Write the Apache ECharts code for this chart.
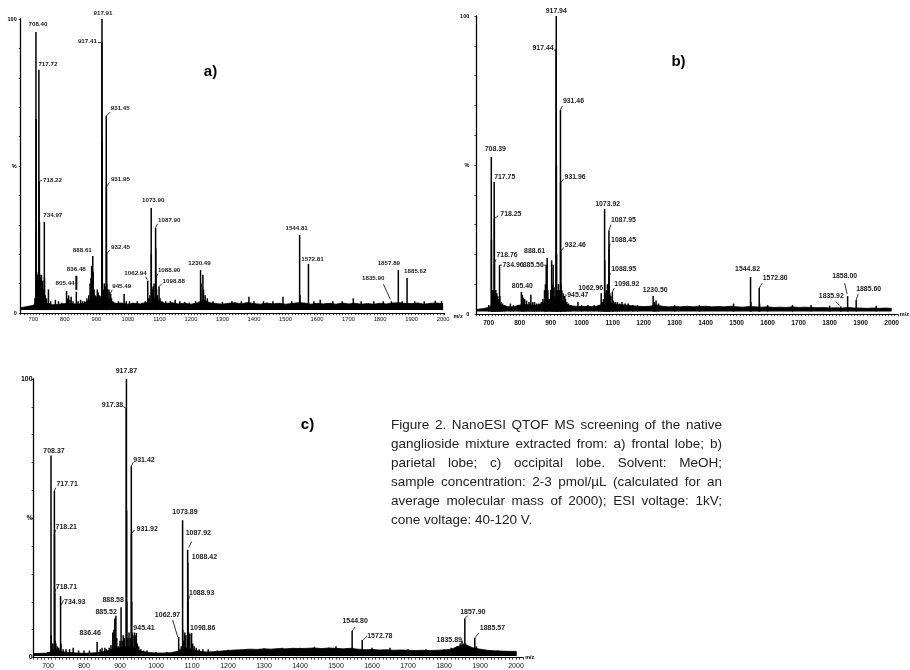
<!DOCTYPE html>
<html><head><meta charset="utf-8">
<script src="https://cdn.jsdelivr.net/npm/echarts@6/dist/echarts.min.js"></script>
<style>html,body{margin:0;padding:0;background:#fff}#c{width:910px;height:670px}</style>
</head><body><div id="c"></div>
<script>
// ---------------- DATA ----------------
const xTicks = [700,800,900,1000,1100,1200,1300,1400,1500,1600,1700,1800,1900,2000];
const baseMz = [660,680,700,720,740,760,780,800,820,840,860,880,900,920,940,960,980,1000,1020,1040,1060,1080,1100,1120,1140,1160,1180,1200,1220,1240,1260,1280,1300,1320,1340,1360,1380,1400,1420,1440,1460,1480,1500,1520,1540,1560,1580,1600,1620,1640,1660,1680,1700,1720,1740,1760,1780,1800,1820,1840,1860,1880,1900,1920,1940,1960,1980,2000];

// baseline noise band (top, %), panel a / b / c
const baseTopA = [1.8,2.2,2.6,5,3.5,2.8,2.9,3.2,3.2,3.0,3.3,4.5,5.5,5.5,4.5,3.2,3.4,3.0,3.3,3.1,3.6,5,4.0,3.2,3.5,3.1,3.3,3.0,3.4,4.5,3.5,3.2,3.0,3.3,3.5,3.1,3.6,3.2,3.0,3.4,3.1,3.3,3.0,3.2,3.5,3.4,3.0,3.3,3.1,3.3,3.0,3.4,3.1,3.3,3.0,3.2,3.0,3.3,3.1,3.4,3.5,3.3,3.2,3.4,3.0,3.3,3.4,3.2];
const baseTopB = [1.5,1.8,2.2,4,3,2.5,2.4,3,3.2,3.0,3.0,4,5,5,4,2.8,2.6,2.5,2.6,2.4,3,4,3.5,3.2,3.0,2.8,2.6,2.5,2.6,3.0,2.6,2.4,2.5,2.4,2.6,2.4,2.5,2.6,2.4,2.5,2.4,2.6,2.4,2.3,2.5,2.4,2.3,2.4,2.2,2.3,2.2,2.4,2.2,2.3,2.2,2.1,2.2,2.0,2.1,2.0,2.2,2.0,2.0,1.9,2.0,1.9,2.0,1.9];
const baseTopC = [1.4,1.5,1.6,3,2,1.8,1.6,1.5,1.6,1.8,2.2,3,3.5,4,3.5,2.2,1.8,1.6,1.6,1.7,2.2,3.5,3,2.2,2.0,2.1,2.3,2.5,2.7,2.8,3.0,2.9,3.1,3.0,3.2,3.1,3.3,3.2,3.3,3.4,3.2,3.4,3.3,3.1,3.3,3.0,2.8,2.9,2.7,2.8,2.6,2.7,2.6,2.5,2.6,2.5,2.6,2.7,3.0,4,4.5,3.5,3.0,2.6,2.4,2.3,2.2,2.2];
const baseLowA = 1.0, baseLowB = 0.8, baseLowC = 0.5;

// peaks [m/z, relative intensity %]
const peaksA = [[705,5],[708.40,95.6],[709.0,66],[709.5,28],[710.5,14],[712,12],[714,13],[716,10],[717.72,82.7],[718.22,44.6],[719.5,31],[721,13],[723,12],[726,13],[728,10],[730,11],[732,8],[734.97,31],[735.5,12],[738,6],[742,5],[748,8],[755,4],[770,4.5],[780,4],[790,3.5],[805.44,7.5],[808,5],[812,6],[816,4.5],[820,5.5],[826,4],[836.48,7.2],[842,4],[850,4.5],[856,4],[862,4],[870,5],[876,6],[880,10],[883,12],[885,16],[888.61,19.4],[890,14],[893,8],[897,6],[903,8],[906,7],[910,6],[913,5],[917.41,92],[917.91,100],[918.4,58],[918.9,25],[922,8],[925,10],[928,9],[931.45,67],[931.95,43],[932.45,20],[933,10],[936,8],[940,8],[943,7],[945.49,6.5],[948,5],[952,4],[960,3.5],[970,4],[988,6.5],[995,4],[1005,4],[1015,3.5],[1030,4],[1045,3.5],[1055,4],[1062.94,11],[1066,5],[1070,6],[1073.90,35.7],[1074.4,20],[1078,8],[1080,9],[1083,10],[1087.90,29],[1088.40,22],[1088.90,12],[1091,8],[1094,6],[1098.88,9],[1102,5],[1108,4],[1120,4],[1135,4],[1150,4.5],[1165,4],[1180,3.8],[1195,3.5],[1215,4],[1230.49,14.6],[1232,10],[1238,13],[1240,8],[1245,6],[1252,5],[1270,4],[1300,3.8],[1330,4],[1360,4],[1384,5.5],[1400,4],[1430,4],[1460,4],[1492,5.5],[1520,4],[1544.81,26.5],[1546,6],[1572.81,16.7],[1590,4],[1610,4.5],[1650,4],[1680,4],[1715,5],[1740,4],[1780,4],[1810,4],[1835.90,4],[1857.89,14.6],[1870,4],[1885.62,11.9],[1910,4],[1940,4],[1975,4.2],[1995,4]];
const peaksB = [[700,3],[708.39,52.7],[709.0,25],[711,8],[713,7],[715,8],[717.75,44.3],[718.25,32],[718.76,17],[720,8],[723,8],[726,7],[729,6],[731,5],[734.96,16.4],[736,6],[740,4],[745,3.5],[752,3],[770,3.5],[780,3],[795,3],[805.40,7.4],[808,6.5],[812,5.5],[816,5],[822,4.5],[830,4],[836,6.5],[842,4],[848,4],[855,3.5],[862,3.5],[870,4],[875,5],[880,8],[883,10],[885.56,16.4],[888.61,18.8],[891,8],[895,5],[900,8],[903,18],[906,10],[908,16.5],[911,9],[913,6],[917.44,88.6],[917.94,100],[918.44,50],[918.9,20],[922,8],[925,10],[928,8],[931.46,68.5],[931.96,44],[932.46,21],[933,10],[936,8],[940,7],[943,6],[945.47,6],[948,5],[952,4],[958,3.5],[965,3],[988,4],[1000,3],[1020,3],[1040,3],[1055,3],[1062.96,7],[1066,4],[1070,5],[1073.92,35.2],[1074.42,18],[1078,7],[1080,8],[1083,10],[1087.95,28],[1088.45,22],[1088.95,12.4],[1091,7],[1094,6],[1098.92,7.4],[1102,4.5],[1108,4],[1115,4],[1122,3.5],[1130,4],[1140,3.5],[1150,3.5],[1165,3],[1180,3],[1230.50,6],[1235,4],[1240,4.5],[1248,3.5],[1300,3],[1380,3],[1490,3.5],[1544.82,12.4],[1546,4],[1572.80,8.7],[1574,3.5],[1600,3],[1680,3],[1740,3],[1800,2.8],[1835.92,2.5],[1858.00,6],[1885.60,4.7],[1950,2.8]];
const peaksC = [[700,2],[708.37,72.5],[709.0,8],[711,5],[714,5],[717.71,59.9],[718.21,44.4],[718.71,23.2],[720,6],[722,5],[726,4],[730,3.5],[734.93,22],[736,5],[742,3],[750,3],[760,3],[770,3.5],[785,2.5],[800,2.5],[815,2.5],[836.46,5.6],[845,3],[850,3.5],[858,3.5],[862,3],[870,3.5],[875,4.5],[880,9],[883,10],[885.52,14],[888.58,15],[891,7],[895,4],[900,6],[903,18],[906,6],[909,8],[912,7],[917.38,89.4],[917.87,100],[918.37,52.8],[918.9,20],[922,7],[925,9],[928,7],[931.42,68.7],[931.92,44.4],[932.42,20],[933,9],[936,8],[940,9],[942,8],[945.41,8.8],[948,5],[952,4],[958,3],[965,2.5],[975,2.5],[1000,2],[1030,2],[1050,2],[1062.97,7.4],[1066,3],[1070,4],[1073.89,49.3],[1074.39,10],[1077,6],[1080,9],[1083,8],[1087.92,38.7],[1088.42,34],[1088.93,20.4],[1091,9],[1094,8.5],[1098.86,8.8],[1102,5],[1106,4],[1112,3.5],[1120,3],[1130,3],[1145,3],[1170,2.5],[1200,2.8],[1250,3],[1300,3.2],[1350,3.5],[1400,3.5],[1440,3.8],[1480,3.5],[1500,4],[1544.80,9.5],[1546,3.5],[1572.78,6.3],[1574,3],[1600,3.5],[1650,3.5],[1700,3],[1750,3],[1800,3],[1820,3.5],[1835.89,4],[1845,5],[1850,6],[1855,5],[1857.90,14],[1860,5],[1865,4.5],[1870,4],[1885.57,7],[1890,4],[1900,3],[1950,2.5],[2000,2.2]];

// annotated peaks (m/z label text, anchor intensity)
const labelA_mz = [708.40,717.72,718.22,734.97,805.44,836.48,888.61,917.41,917.91,931.45,931.95,932.45,945.49,1062.94,1073.90,1087.90,1088.90,1098.88,1230.49,1544.81,1572.81,1835.90,1857.89,1885.62];
const labelA_int = [95.6,82.7,44.6,31,7.5,7.2,19.4,92,100,67,43,20,6.5,11,35.7,29,12,9,14.6,26.5,16.7,4,14.6,11.9];
const labelB_mz = [708.39,717.75,718.25,718.76,734.96,805.40,885.56,888.61,917.44,917.94,931.46,931.96,932.46,945.47,1062.96,1073.92,1087.95,1088.45,1088.95,1098.92,1230.50,1544.82,1572.80,1835.92,1858.00,1885.60];
const labelB_int = [52.7,44.3,32,17,16.4,7.4,16.4,18.8,88.6,100,68.5,44,21,6,7,35.2,28,22,12.4,7.4,6,12.4,8.7,2.5,6,4.7];
const labelC_mz = [708.37,717.71,718.21,718.71,734.93,836.46,885.52,888.58,917.38,917.87,931.42,931.92,945.41,1062.97,1073.89,1087.92,1088.42,1088.93,1098.86,1544.80,1572.78,1835.89,1857.90,1885.57];
const labelC_int = [72.5,59.9,44.4,23.2,22,5.6,14,15,89.4,100,68.7,44.4,8.8,7.4,49.3,38.7,34,20.4,8.8,9.5,6.3,4,14,7];

const panelNames = ['a)','b)','c)'];
const captionLines = [
  'Figure 2. NanoESI QTOF MS screening of the native',
  'ganglioside mixture extracted from: a) frontal lobe; b)',
  'parietal lobe; c) occipital lobe. Solvent: MeOH;',
  'sample concentration: 2-3 pmol/\u00b5L (calculated for an',
  'average molecular mass of 2000);  ESI voltage: 1kV;',
  'cone voltage: 40-120 V.'
];

// ---------------- LAYOUT (pixel offsets of annotations) ----------------
// [align, dx, dy, leader [x1,y1,x2,y2] | null, leaderWidth]
const layoutA = [
 ['center',2,-8,null],['left',-0.5,-6,null],['left',4,-2,[0,0,3,-2]],['left',-1,-7,null],
 ['center',-1.5,-8,null],['center',0,-23,[0,-2,0,-16],2],['right',-1,-6,null],['right',-5,-1,[-1,0,-4,0]],
 ['center',1,-6,null],['left',4.5,-7.5,[0,0,4,-4]],['left',4.5,-7,[0,0,3,-4]],['left',4.5,-7,[0,0,3,-4]],
 ['left',1.5,-8,[0,-1,1.5,-4]],['right',-1,-7,[-0.5,-1,-2,-4]],['center',2,-8,null],['left',2.5,-7,[0,0,2,-4]],
 ['left',2,-7,[0,0,2,-4]],['left',3.5,-5,[0,0,3,-3]],['center',-1,-7,null],['center',-3,-7,null],
 ['center',4,-5,null],['right',-7,-23,[-1,-2,-8,-17]],['right',1.7,-7,null],['left',-3,-7,null]
];
const layoutB = [
 ['center',4,-8,null],['left',0,-5,null],['left',6,-5,[0,0,4,-3]],['left',2,-8,[0,0,1.5,-4]],
 ['left',3,0,[0,0,2.5,0]],['center',1,-6,null],['right',-2.5,0,[0,0,-2,0]],['right',-2,-7,null],
 ['right',-2.5,-1.5,[0,0,-2,0]],['center',0,-5,null],['left',2.5,-9,[0,0,2,-4]],['left',4,-6,[0,0,3,-4]],
 ['left',4,-6,[0,0,3,-4]],['left',2.5,-1,[0,-1,2,-1]],['right',2,-5,null],['center',3,-5,null],
 ['left',2,-10,[0,0,2,-6]],['left',2,-8,[0,0,1,-5]],['left',2,-8,[0,0,1,-4]],['left',2,-8,[0,0,2,-4]],
 ['center',2,-6,null],['center',-3,-8,null],['left',3.5,-10,[0,0,3,-5]],['right',3,-10,[-1,-1,-5,-5]],
 ['center',-3,-20,[-0.5,-2,-3,-13]],['left',0,-11,[0,0,2,-6]]
];
const layoutC = [
 ['center',3,-5,null],['left',2,-7,[0,0,1.5,-3]],['left',1,-7,[0,0,1,-4]],['left',1,-6,[0,0,1,-4]],
 ['left',3.5,5.5,[0.5,9,3,4]],['center',-7,-9,null],['right',2,-6,null],['right',8,-16,null],
 ['right',-3,-3,[-3,-2,0,0]],['center',0,-8,null],['left',2,-6,[0,0,2,-4]],['left',5,-5,[0,0,3,-4]],
 ['left',-3,-5,null],['right',1.5,-22,[-1,0,-6,-17]],['center',2.4,-8,null],['left',-2,-17,[1,-2,4,-8]],
 ['left',4,-6,null],['left',1,-8,[0,0,2,-5]],['left',-1.5,-5,null],['center',3,-10,[0,0,3,-4]],
 ['left',5,-4,[1,0,5,-4]],['right',5,-6,null],['center',8,-6.5,[0,0,3,-3]],['left',5,-10,[0,0,4,-5]]
];

const FONT = '"Liberation Sans", Arial, Helvetica, sans-serif';
const grids = [
  {left:20.7, top:19, width:424, height:294},
  {left:476.3, top:16, width:433.2, height:298},
  {left:33.6, top:379, width:489.6, height:284}
];
const xMax = [2005, 2020, 2020];
const tickFont = [5.8, 6.6, 7];
const tickBold = ['normal','bold','normal'];
const tickMargin = [3, 5.5, 5.5];
const yFont = [5.5, 5.5, 7];
const yMargin = [4, 7, 1];
const labFont = [6.2, 6.9, 7];
const nameVAlign = ['top','middle','middle'];

const xAxes = [], yAxes = [], series = [];
const peakSets = [peaksA, peaksB, peaksC];
const baseTops = [baseTopA, baseTopB, baseTopC];
const baseLows = [baseLowA, baseLowB, baseLowC];
const labMz = [labelA_mz, labelB_mz, labelC_mz];
const labInt = [labelA_int, labelB_int, labelC_int];
const layouts = [layoutA, layoutB, layoutC];

for (let i = 0; i < 3; i++) {
  xAxes.push({
    type:'value', gridIndex:i, min:660, max:xMax[i], interval:10,
    name: 'm/z', nameLocation:'end', nameGap:2,
    nameTextStyle:{fontSize:5.5, fontFamily:FONT, color:'#000', fontWeight:'bold', verticalAlign:nameVAlign[i]},
    axisLine:{show:true, onZero:false, lineStyle:{color:'#000', width:1}},
    axisTick:{show:true, length:2.2, lineStyle:{color:'#000', width:0.7}},
    axisLabel:{show:true, margin:tickMargin[i], fontSize:tickFont[i], fontFamily:FONT, fontWeight:tickBold[i], color:'#111',
      formatter:(v)=> xTicks.indexOf(v) >= 0 ? String(v) : ''},
    splitLine:{show:false}
  });
  yAxes.push({
    type:'value', gridIndex:i, min:0, max:100, interval:10,
    axisLine:{show:true, onZero:false, lineStyle:{color:'#000', width:1.3}},
    axisTick:{show:true, length:2, lineStyle:{color:'#000', width:0.7}},
    axisLabel:{show:true, margin:yMargin[i], fontSize:yFont[i], fontFamily:FONT, fontWeight:'bold', color:'#000',
      formatter:(v)=> v===100?'100':(v===50?'%':(v===0?'0':''))},
    splitLine:{show:false}
  });
  const low = baseLows[i];
  // noise band
  series.push({
    type:'line', xAxisIndex:i, yAxisIndex:i, symbol:'none', silent:true, animation:false,
    data: baseMz.map((m,k)=>[m, baseTops[i][k]]),
    lineStyle:{color:'#000', width:0.8},
    areaStyle:{color:'#000', opacity:1, origin: low}
  });
  // sticks
  series.push({
    type:'custom', coordinateSystem:'cartesian2d', xAxisIndex:i, yAxisIndex:i, silent:true, animation:false,
    encode:{x:0, y:1}, data: peakSets[i],
    renderItem:(params, api)=>{
      const m = api.value(0), h = api.value(1);
      const a = api.coord([m, low]), b = api.coord([m, h]);
      return {type:'line', shape:{x1:a[0], y1:a[1], x2:b[0], y2:b[1]}, style:{stroke:'#000', lineWidth:1.5}};
    }
  });
  // annotations
  const mzs = labMz[i], lay = layouts[i], fs = labFont[i];
  series.push({
    type:'custom', coordinateSystem:'cartesian2d', xAxisIndex:i, yAxisIndex:i, silent:true, animation:false, clip:false,
    encode:{x:0, y:1}, data: mzs.map((m,k)=>[m, labInt[i][k], k]),
    renderItem:(params, api)=>{
      const k = api.value(2);
      const p = api.coord([api.value(0), api.value(1)]);
      const L = lay[k];
      const ch = [{type:'text', x:p[0]+L[1], y:p[1]+L[2],
        style:{text: mzs[k].toFixed(2), fontSize:fs, fontFamily:FONT, fontWeight:'bold', fill:'#1a1a1a', align:L[0], verticalAlign:'middle'}}];
      if (L[3]) {
        const q = L[3];
        ch.push({type:'line', shape:{x1:p[0]+q[0], y1:p[1]+q[1], x2:p[0]+q[2], y2:p[1]+q[3]}, style:{stroke:'#000', lineWidth:L[4]||0.8}});
      }
      return {type:'group', children: ch};
    }
  });
}

// graphic: panel letters + justified caption
const graphic = [];
const letterPos = [[210.5,71.7],[678.5,61.7],[307.5,425]];
panelNames.forEach((t,i)=>{
  graphic.push({type:'text', x:letterPos[i][0], y:letterPos[i][1], silent:true,
    style:{text:t, font:'bold 15px '+FONT, fill:'#000', align:'center', verticalAlign:'middle', textAlign:'center', textVerticalAlign:'middle'}});
});
const capFont = '13.5px ' + FONT;
const ctx = document.createElement('canvas').getContext('2d');
ctx.font = capFont;
const capLeft = 391, capRight = 722, capTop = 425, capStep = 19;
captionLines.forEach((line, li)=>{
  const y = capTop + li*capStep;
  if (li === captionLines.length - 1) {
    graphic.push({type:'text', x:capLeft, y:y, silent:true, style:{text:line, font:capFont, fill:'#222', align:'left', verticalAlign:'middle', textAlign:'left', textVerticalAlign:'middle'}});
    return;
  }
  const words = line.split(/\s+/);
  const widths = words.map(w=>ctx.measureText(w).width);
  const total = widths.reduce((s,w)=>s+w,0);
  const gap = (capRight - capLeft - total)/(words.length-1);
  let x = capLeft;
  words.forEach((w,k)=>{
    graphic.push({type:'text', x:x, y:y, silent:true, style:{text:w, font:capFont, fill:'#222', align:'left', verticalAlign:'middle', textAlign:'left', textVerticalAlign:'middle'}});
    x += widths[k] + gap;
  });
});

const chart = echarts.init(document.getElementById('c'), null, {renderer:'canvas'});
chart.setOption({
  backgroundColor:'#fff', animation:false,
  textStyle:{fontFamily:FONT},
  grid: grids, xAxis: xAxes, yAxis: yAxes, series: series, graphic: graphic
});
</script></body></html>
